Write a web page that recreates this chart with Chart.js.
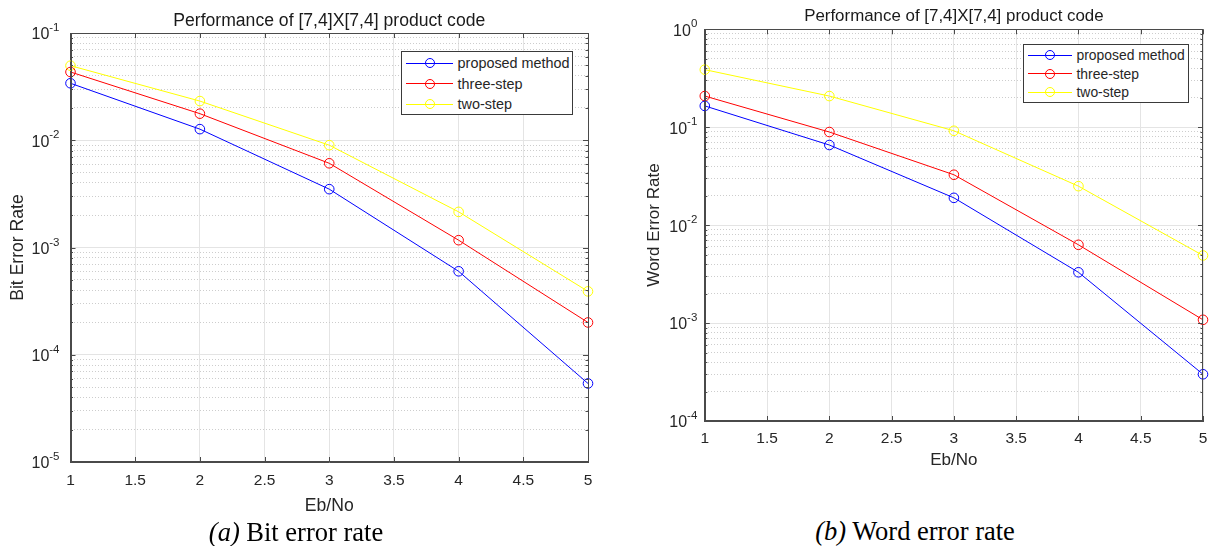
<!DOCTYPE html>
<html lang="en">
<head>
<meta charset="UTF-8">
<title>Performance of [7,4]X[7,4] product code</title>
<script src="https://cdn.jsdelivr.net/npm/chart.js"></script>
<style>
  body { margin: 0; background: #fff; width: 1211px; height: 546px; position: relative; overflow: hidden;
         font-family: "Liberation Sans", Arial, sans-serif; }
  .panel { position: absolute; top: 0; }
  .legend { position: absolute; background: #fff; border: 1px solid #3a3a3a; color: #262626;
            box-sizing: border-box; }
  .legend-row { display: flex; align-items: center; white-space: nowrap; }
  .swatch { position: relative; height: 10px; flex: none; }
  .swatch .ln { position: absolute; left: 0; right: 0; top: 4.5px; border-top: 1px solid; }
  .swatch .mk { position: absolute; top: 0; width: 8px; height: 8px; border: 1px solid; border-radius: 50%; }
  .caption { position: absolute; font-family: "Liberation Serif", "Times New Roman", serif;
             color: #000; transform: translate(-50%, -50%); white-space: nowrap; }
</style>
</head>
<body>
  <div class="panel" style="left:0; width:620px; height:520px;"><canvas id="berChart"></canvas></div>
  <div class="panel" style="left:620px; width:591px; height:475px;"><canvas id="werChart"></canvas></div>

  <div class="legend" id="berLegend" style="left:401px; top:51px; width:172px; height:64px; padding:1px 4px; font-size:14.4px;"></div>
  <div class="legend" id="werLegend" style="left:1023px; top:44px; width:166px; height:59px; padding:1px 4px; font-size:13.9px;"></div>

  <div class="caption" style="left:296px; top:532px; font-size:26.5px;"><i>(a)</i> Bit error rate</div>
  <div class="caption" style="left:915px; top:531px; font-size:26.5px;"><i>(b)</i> Word error rate</div>

<script>
  // Data
  const ebNo = [1, 2, 3, 4, 5];
  const seriesLabels = ['proposed method', 'three-step', 'two-step'];
  const seriesColors = ['#0000ff', '#ff0000', '#ffff00'];

  const berProposed  = [0.034, 0.0127, 0.0035, 6.0e-4, 5.4e-5];
  const berThreeStep = [0.0433, 0.0177, 0.0061, 1.17e-3, 2.0e-4];
  const berTwoStep   = [0.0496, 0.0232, 0.0090, 2.15e-3, 3.9e-4];

  const werProposed  = [0.165, 0.0658, 0.019, 3.3e-3, 3.0e-4];
  const werThreeStep = [0.208, 0.0893, 0.0327, 6.3e-3, 1.08e-3];
  const werTwoStep   = [0.387, 0.208, 0.092, 0.025, 4.9e-3];

  const xTicks = [1, 1.5, 2, 2.5, 3, 3.5, 4, 4.5, 5];
  const berExponents = [-5, -4, -3, -2, -1];
  const werExponents = [-4, -3, -2, -1, 0];

  const FONT = "'Liberation Sans', Arial, sans-serif";

  // decade ticks plus 2..9 minor ticks for the grid
  function logTicks(exponents) {
    const ticks = [];
    for (let i = 0; i < exponents.length; i++) {
      const e = exponents[i];
      ticks.push({ value: Math.pow(10, e), major: true, exp: e });
      if (i < exponents.length - 1) {
        for (let m = 2; m <= 9; m++) ticks.push({ value: m * Math.pow(10, e), major: false });
      }
    }
    return ticks;
  }

  function toPoints(values) {
    return values.map((v, i) => ({ x: ebNo[i], y: v }));
  }

  // box around the axes with small inward ticks, like the original figure
  const framePlugin = {
    id: 'frame',
    afterDatasetsDraw(chart) {
      const { ctx, chartArea: a, scales } = chart;
      ctx.save();
      ctx.strokeStyle = '#4a4a4a';
      ctx.lineWidth = 1;
      ctx.strokeRect(Math.round(a.left) + 0.5, Math.round(a.top) + 0.5,
                     Math.round(a.right - a.left) - 1, Math.round(a.bottom - a.top) - 1);
      ctx.beginPath();
      scales.x.ticks.forEach(t => {
        const px = Math.round(scales.x.getPixelForValue(t.value)) + 0.5;
        ctx.moveTo(px, a.top); ctx.lineTo(px, a.top + 5);
        ctx.moveTo(px, a.bottom); ctx.lineTo(px, a.bottom - 5);
      });
      scales.y.ticks.forEach(t => {
        const py = Math.round(scales.y.getPixelForValue(t.value)) + 0.5;
        const len = t.major ? 5 : 2.5;
        ctx.moveTo(a.left, py); ctx.lineTo(a.left + len, py);
        ctx.moveTo(a.right, py); ctx.lineTo(a.right - len, py);
      });
      ctx.stroke();
      ctx.restore();
    }
  };

  // y tick labels as 10 with a raised exponent
  const powerLabelPlugin = {
    id: 'powerLabels',
    afterDraw(chart, args, opts) {
      const { ctx, scales } = chart;
      const y = scales.y;
      ctx.save();
      ctx.fillStyle = '#262626';
      ctx.textBaseline = 'middle';
      ctx.textAlign = 'right';
      y.ticks.forEach(t => {
        if (!t.major) return;
        const py = y.getPixelForValue(t.value);
        const sup = t.exp === 0 ? '0' : '-' + Math.abs(t.exp);
        const right = y.right - opts.gap;
        ctx.font = opts.supSize + 'px ' + FONT;
        ctx.fillText(sup, right, py - 5);
        const supW = ctx.measureText(sup).width;
        ctx.font = opts.baseSize + 'px ' + FONT;
        ctx.fillText('10', right - supW, py + 2);
      });
      ctx.restore();
    }
  };

  function buildChart(canvasId, cfg) {
    const datasets = cfg.series.map((values, i) => ({
      label: seriesLabels[i],
      data: toPoints(values),
      borderColor: seriesColors[i],
      backgroundColor: 'rgba(0,0,0,0)',
      borderWidth: 1,
      pointRadius: 4.8,
      pointHoverRadius: 4.8,
      pointBorderWidth: 1,
      pointBorderColor: seriesColors[i],
      pointBackgroundColor: 'rgba(0,0,0,0)',
      tension: 0,
      clip: false
    }));

    return new Chart(document.getElementById(canvasId).getContext('2d'), {
      type: 'line',
      data: { datasets: datasets },
      options: {
        responsive: true,
        maintainAspectRatio: false,
        animation: false,
        layout: { padding: { left: 0, right: cfg.padRight, top: 0, bottom: 0 } },
        plugins: {
          legend: { display: false },
          tooltip: { enabled: false },
          powerLabels: { gap: cfg.labelGap, baseSize: 16, supSize: 11.5 },
          title: {
            display: true,
            text: 'Performance of [7,4]X[7,4] product code',
            fullSize: false,
            color: '#1a1a1a',
            font: { family: FONT, size: cfg.titleSize, weight: 'normal' },
            padding: cfg.titlePadding
          }
        },
        scales: {
          x: {
            type: 'linear',
            min: 1,
            max: 5,
            afterBuildTicks: scale => { scale.ticks = xTicks.map(v => ({ value: v })); },
            afterFit: scale => { scale.height = cfg.xHeight; scale.paddingLeft = 0; scale.paddingRight = 0; },
            ticks: {
              autoSkip: false,
              maxRotation: 0,
              padding: cfg.xTickPad,
              color: '#262626',
              font: { family: FONT, size: 15.5 },
              callback: v => String(v)
            },
            grid: { color: '#e4e4e4', drawTicks: false },
            border: { display: true, color: '#4a4a4a' },
            title: {
              display: true,
              text: 'Eb/No',
              color: '#262626',
              font: { family: FONT, size: cfg.labelSize },
              padding: { top: 0, bottom: cfg.xTitlePad }
            }
          },
          y: {
            type: 'logarithmic',
            min: Math.pow(10, cfg.exponents[0]),
            max: Math.pow(10, cfg.exponents[cfg.exponents.length - 1]),
            afterBuildTicks: scale => { scale.ticks = logTicks(cfg.exponents); },
            afterFit: scale => { scale.width = cfg.yWidth; scale.paddingTop = 0; scale.paddingBottom = 0; },
            ticks: {
              autoSkip: false,
              callback: () => ''
            },
            grid: {
              drawTicks: false,
              color: ctx => (ctx.tick && !ctx.tick.major) ? '#cdcdcd' : '#e4e4e4'
            },
            border: {
              display: true,
              color: '#4a4a4a',
              dash: ctx => (ctx.tick && !ctx.tick.major) ? [1, 2] : []
            },
            title: {
              display: true,
              text: cfg.yTitle,
              color: '#262626',
              font: { family: FONT, size: cfg.labelSize },
              padding: { top: cfg.yTitlePad, bottom: 0 }
            }
          }
        }
      },
      plugins: [framePlugin, powerLabelPlugin]
    });
  }

  function buildLegend(elId, geom) {
    const box = document.getElementById(elId);
    seriesLabels.forEach((label, i) => {
      const row = document.createElement('div');
      row.className = 'legend-row';
      row.style.height = geom.rowHeight + 'px';
      const sw = document.createElement('span');
      sw.className = 'swatch';
      sw.style.width = geom.lineWidth + 'px';
      sw.style.marginRight = geom.gap + 'px';
      sw.innerHTML = '<span class="ln" style="border-color:' + seriesColors[i] + '"></span>' +
                     '<span class="mk" style="left:' + (geom.lineWidth / 2 - 5) + 'px;border-color:' + seriesColors[i] + '"></span>';
      const txt = document.createElement('span');
      txt.textContent = label;
      row.appendChild(sw);
      row.appendChild(txt);
      box.appendChild(row);
    });
  }

  buildChart('berChart', {
    series: [berProposed, berThreeStep, berTwoStep],
    exponents: berExponents,
    yTitle: 'Bit Error Rate',
    padRight: 32,
    yWidth: 70.5,
    xHeight: 58,
    xTickPad: 9.4,
    xTitlePad: 3.4,
    yTitlePad: 7.8,
    labelSize: 17.6,
    labelGap: 11,
    titleSize: 17.6,
    titlePadding: { top: 10.1, bottom: 1.8 }
  });

  buildChart('werChart', {
    series: [werProposed, werThreeStep, werTwoStep],
    exponents: werExponents,
    yTitle: 'Word Error Rate',
    padRight: 8,
    yWidth: 84.8,
    xHeight: 54,
    xTickPad: 8,
    xTitlePad: 4.8,
    yTitlePad: 23.7,
    labelSize: 17,
    labelGap: 7.5,
    titleSize: 16.9,
    titlePadding: { top: 6.6, bottom: 2.4 }
  });

  buildLegend('berLegend', { rowHeight: 20.5, lineWidth: 47, gap: 4.6 });
  buildLegend('werLegend', { rowHeight: 18.5, lineWidth: 44, gap: 4.5 });
</script>
</body>
</html>
